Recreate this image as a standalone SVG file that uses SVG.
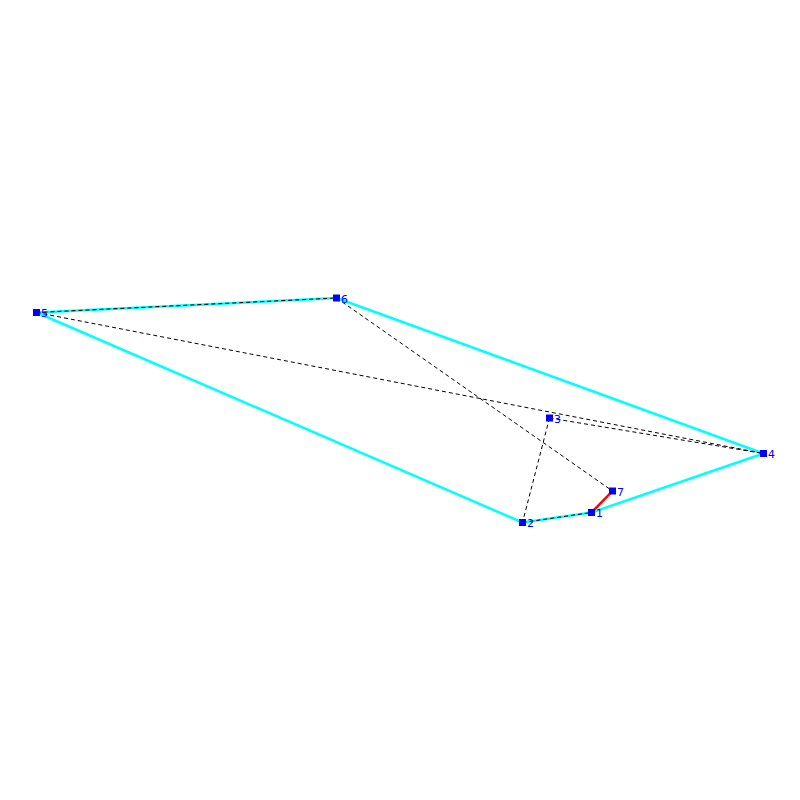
<svg xmlns="http://www.w3.org/2000/svg" width="800" height="800" viewBox="0 0 800 800">
<style>
.hull{stroke:#00ffff;stroke-width:2.5;fill:none}
.red{stroke:#ff0000;stroke-width:2.5;fill:none}
.dash{stroke:#000;stroke-width:1;stroke-dasharray:4,3;fill:none}
.n rect{fill:#0000ff}
.n text{fill:#0000ff;font-family:"DejaVu Sans",sans-serif;font-size:11px}
</style>
<rect width="800" height="800" fill="#fff"/>
<g id="connectors">
<line class="hull" x1="36.5" y1="312.5" x2="336.5" y2="298"/>
<line class="hull" x1="336.5" y1="298" x2="763.5" y2="453.5"/>
<line class="hull" x1="763.5" y1="453.5" x2="591.5" y2="512.5"/>
<line class="hull" x1="591.5" y1="512.5" x2="522.5" y2="522.5"/>
<line class="hull" x1="522.5" y1="522.5" x2="36.5" y2="312.5"/>
<line class="red" x1="591.5" y1="512.5" x2="612.5" y2="491"/>
<line class="dash" x1="36.5" y1="312.5" x2="336.5" y2="298"/>
<line class="dash" x1="36.5" y1="312.5" x2="763.5" y2="453.5"/>
<line class="dash" x1="336.5" y1="298" x2="612.5" y2="491"/>
<line class="dash" x1="549.5" y1="418" x2="763.5" y2="453.5"/>
<line class="dash" x1="549.5" y1="418" x2="522.5" y2="522.5"/>
<line class="dash" x1="522.5" y1="522.5" x2="591.5" y2="512.5"/>
</g>
<g id="n1" class="n"><rect x="588" y="509" width="7" height="7"/><text x="596" y="517">1</text></g>
<g id="n2" class="n"><rect x="519" y="519" width="7" height="7"/><text x="527" y="527">2</text></g>
<g id="n3" class="n"><rect x="546" y="414.5" width="7" height="7"/><text x="554" y="422.5">3</text></g>
<g id="n4" class="n"><rect x="760" y="450" width="7" height="7"/><text x="768" y="458">4</text></g>
<g id="n5" class="n"><rect x="33" y="309" width="7" height="7"/><text x="41" y="317">5</text></g>
<g id="n6" class="n"><rect x="333" y="294.5" width="7" height="7"/><text x="341" y="302.5">6</text></g>
<g id="n7" class="n"><rect x="609" y="487.5" width="7" height="7"/><text x="617" y="495.5">7</text></g>
</svg>
